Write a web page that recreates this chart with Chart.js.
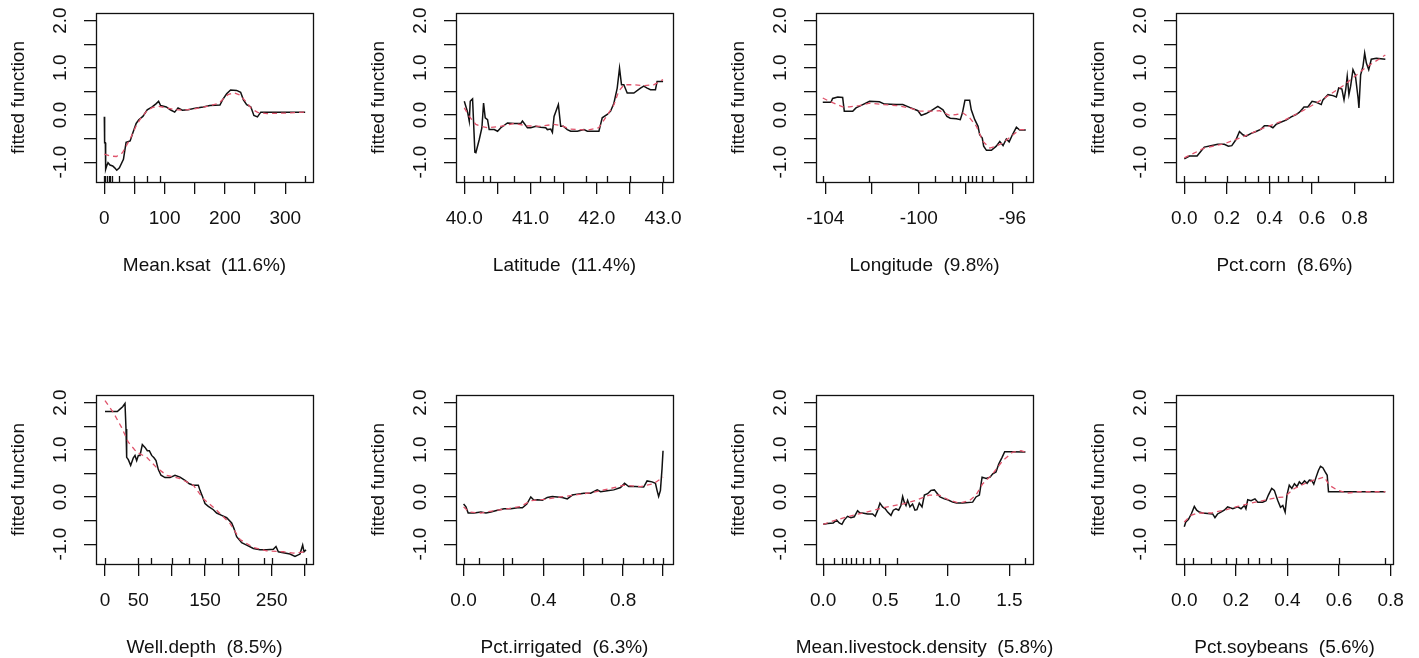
<!DOCTYPE html>
<html>
<head>
<meta charset="utf-8">
<title>Relative influence – partial dependence</title>
<script src="https://cdn.jsdelivr.net/npm/chart.js@4.4.0/dist/chart.umd.min.js"></script>
<style>
  html, body { margin: 0; padding: 0; background: #fff; overflow: hidden; }
  #page { position: relative; width: 1419px; height: 658px; }
  #page canvas { position: absolute; }
</style>
</head>
<body>
<div id="page"></div>
<script>
// ---- shared y axis ----
const yTicks = [-1, -0.5, 0, 0.5, 1, 1.5, 2];
const yLabels = [-1, 0, 1, 2];

const panelTitles = [
  'Mean.ksat  (11.6%)', 'Latitude  (11.4%)', 'Longitude  (9.8%)', 'Pct.corn  (8.6%)',
  'Well.depth  (8.5%)', 'Pct.irrigated  (6.3%)', 'Mean.livestock.density  (5.8%)', 'Pct.soybeans  (5.6%)'
];

// ---- Mean.ksat ----
const ksatX = [0, 0.5, 1.7, 2.2, 3.9, 6.1, 9.4, 13.9, 17.2, 20.6, 25, 31.7, 36.1, 42.8, 47.2, 52.8, 57.2, 63.9, 71.1, 79.4, 86.1, 90, 93.3, 102.8, 109.4, 116.7, 122.2, 129.4, 138.9, 152.8, 163.9, 175, 191.7, 196, 202.8, 209.4, 219.4, 226, 230.6, 236, 243, 248, 253.9, 259.4, 333];
const ksatFit = [-0.04, -0.59, -0.59, -1.15, -1.08, -1.01, -1.06, -1.08, -1.12, -1.17, -1.12, -0.94, -0.58, -0.55, -0.38, -0.18, -0.10, -0.03, 0.11, 0.17, 0.24, 0.29, 0.2, 0.17, 0.11, 0.06, 0.15, 0.1, 0.11, 0.15, 0.17, 0.2, 0.21, 0.32, 0.45, 0.53, 0.52, 0.48, 0.32, 0.22, 0.17, -0.01, -0.04, 0.06, 0.06];
const ksatSmX = [0, 10, 20, 30, 38, 45, 52, 60, 70, 80, 90, 100, 115, 130, 150, 170, 190, 205, 215, 225, 235, 245, 255, 270, 300, 333];
const ksatSm = [-0.83, -0.87, -0.88, -0.8, -0.62, -0.45, -0.25, -0.08, 0.08, 0.16, 0.18, 0.16, 0.12, 0.1, 0.13, 0.18, 0.25, 0.43, 0.47, 0.42, 0.28, 0.12, 0.05, 0.03, 0.04, 0.06];
const ksatRug = [0, 1, 4.5, 7.2, 10, 12.8, 25, 49, 70.5, 92, 333];
const ksatTicks = [0, 50, 100, 150, 200, 250, 300];
const ksatLabels = [0, 100, 200, 300];

// ---- Latitude ----
const latX = [40.0, 40.05, 40.075, 40.09, 40.11, 40.125, 40.16, 40.175, 40.226, 40.266, 40.291, 40.316, 40.351, 40.376, 40.452, 40.502, 40.552, 40.652, 40.753, 40.853, 40.878, 40.953, 41.004, 41.079, 41.154, 41.229, 41.254, 41.305, 41.33, 41.355, 41.42, 41.455, 41.495, 41.555, 41.606, 41.706, 41.806, 41.857, 42.032, 42.057, 42.082, 42.158, 42.208, 42.258, 42.308, 42.343, 42.373, 42.408, 42.459, 42.559, 42.659, 42.709, 42.76, 42.81, 42.885, 42.91, 43.0];
const latFit = [0.29, 0.06, -0.13, 0.29, 0.32, 0.34, -0.79, -0.80, -0.52, -0.27, 0.25, -0.06, -0.10, -0.31, -0.31, -0.345, -0.27, -0.17, -0.18, -0.18, -0.13, -0.27, -0.27, -0.24, -0.26, -0.27, -0.31, -0.30, -0.37, -0.03, 0.22, -0.24, -0.24, -0.31, -0.345, -0.345, -0.31, -0.345, -0.345, -0.20, -0.06, 0.01, 0.08, 0.25, 0.57, 0.99, 0.64, 0.64, 0.465, 0.465, 0.57, 0.61, 0.57, 0.535, 0.535, 0.71, 0.71];
const latSmX = [40.0, 40.075, 40.175, 40.25, 40.35, 40.55, 40.75, 40.95, 41.15, 41.35, 41.455, 41.6, 41.86, 42.03, 42.16, 42.26, 42.33, 42.41, 42.56, 42.71, 42.86, 43.0];
const latSm = [0.15, -0.03, -0.2, -0.24, -0.27, -0.24, -0.18, -0.23, -0.24, -0.2, -0.22, -0.3, -0.32, -0.27, 0.0, 0.22, 0.5, 0.64, 0.64, 0.62, 0.64, 0.75];
const latRug = [40.0, 40.28, 40.39, 40.75, 41.15, 41.35, 41.83, 42.16, 42.5, 43.0];
const latTicks = [40, 40.5, 41, 41.5, 42, 42.5, 43];
const latLabels = [40, 41, 42, 43];

// ---- Longitude ----
const lonX = [-104.11, -103.76, -103.69, -103.47, -103.26, -103.19, -102.83, -102.69, -102.4, -102.11, -101.69, -101.47, -100.97, -100.69, -100.4, -100.04, -99.9, -99.69, -99.47, -99.19, -98.97, -98.8, -98.66, -98.4, -98.23, -98.14, -98.03, -97.83, -97.76, -97.61, -97.47, -97.4, -97.29, -97.23, -97.11, -96.9, -96.69, -96.54, -96.4, -96.26, -96.14, -96.0, -95.83, -95.69, -95.43];
const lonFit = [0.27, 0.27, 0.35, 0.38, 0.37, 0.08, 0.08, 0.15, 0.22, 0.29, 0.28, 0.23, 0.22, 0.22, 0.16, 0.09, -0.01, 0.03, 0.09, 0.18, 0.11, -0.03, -0.07, -0.08, -0.1, 0.04, 0.31, 0.31, 0.11, -0.1, -0.24, -0.42, -0.49, -0.66, -0.75, -0.75, -0.66, -0.56, -0.65, -0.51, -0.57, -0.42, -0.26, -0.32, -0.32];
const lonSmX = [-104.11, -103.83, -103.26, -102.97, -102.54, -102.11, -101.54, -100.97, -100.4, -99.97, -99.54, -99.11, -98.69, -98.4, -98.11, -97.83, -97.54, -97.26, -96.97, -96.69, -96.4, -95.97, -95.69, -95.43];
const lonSm = [0.36, 0.29, 0.17, 0.17, 0.2, 0.25, 0.22, 0.2, 0.15, 0.08, 0.08, 0.09, -0.01, 0.01, 0.04, -0.06, -0.24, -0.56, -0.7, -0.66, -0.59, -0.42, -0.31, -0.31];
const lonRug = [-104.09, -102.14, -99.32, -98.57, -98.26, -97.88, -97.74, -97.57, -97.31, -96.83, -95.43];
const lonTicks = [-104, -102, -100, -98, -96];
const lonLabels = [-104, -100, -96];

// ---- Pct.corn ----
const cornX = [0, 0.024, 0.06, 0.078, 0.094, 0.125, 0.157, 0.188, 0.207, 0.223, 0.243, 0.259, 0.275, 0.29, 0.314, 0.337, 0.361, 0.376, 0.4, 0.416, 0.431, 0.455, 0.478, 0.502, 0.525, 0.541, 0.562, 0.58, 0.6, 0.62, 0.643, 0.651, 0.675, 0.698, 0.714, 0.725, 0.74, 0.75, 0.758, 0.765, 0.773, 0.781, 0.792, 0.803, 0.816, 0.82, 0.828, 0.839, 0.847, 0.855, 0.866, 0.878, 0.902, 0.944];
const cornFit = [-0.93, -0.87, -0.87, -0.77, -0.68, -0.65, -0.62, -0.62, -0.66, -0.65, -0.52, -0.35, -0.42, -0.45, -0.39, -0.35, -0.3, -0.23, -0.23, -0.27, -0.2, -0.15, -0.11, -0.04, 0.01, 0.06, 0.17, 0.17, 0.29, 0.27, 0.22, 0.32, 0.43, 0.41, 0.38, 0.57, 0.55, 0.32, 0.54, 0.82, 0.43, 0.61, 0.96, 0.85, 0.36, 0.15, 0.85, 1.03, 1.31, 1.1, 0.96, 1.18, 1.2, 1.18];
const cornSmX = [0, 0.094, 0.188, 0.282, 0.376, 0.471, 0.565, 0.659, 0.753, 0.847, 0.944];
const cornSm = [-0.91, -0.7, -0.61, -0.45, -0.27, -0.11, 0.11, 0.36, 0.64, 0.99, 1.27];
const cornRug = [0, 0.099, 0.2, 0.284, 0.345, 0.397, 0.442, 0.489, 0.552, 0.627, 0.944];
const cornTicks = [0, 0.2, 0.4, 0.6, 0.8];
const cornLabels = [0, 0.2, 0.4, 0.6, 0.8];

// ---- Well.depth ----
const wellX = [0, 15, 18.5, 22.5, 26.5, 30, 31.5, 32.5, 35, 38.5, 42.5, 45, 47.5, 50, 52.5, 56, 60, 63.5, 66.5, 70, 73.5, 76.5, 80, 84, 90, 97.5, 105, 112.5, 120, 126.5, 132.5, 140, 142.5, 146.5, 150, 155, 162.5, 167.5, 175, 182.5, 190, 193.5, 197.5, 205, 212.5, 222.5, 232.5, 242.5, 252.5, 256.5, 260, 267.5, 277.5, 285, 292.5, 296.5, 298.5, 301.5];
const wellFit = [1.81, 1.81, 1.81, 1.86, 1.91, 1.98, 1.44, 0.84, 0.79, 0.67, 0.83, 0.88, 0.77, 0.88, 0.88, 1.11, 1.05, 0.98, 0.98, 0.88, 0.83, 0.77, 0.58, 0.46, 0.41, 0.41, 0.46, 0.42, 0.35, 0.28, 0.25, 0.25, 0.14, 0.0, -0.14, -0.2, -0.27, -0.34, -0.39, -0.44, -0.55, -0.67, -0.84, -0.97, -1.02, -1.09, -1.12, -1.12, -1.11, -1.05, -1.16, -1.18, -1.21, -1.26, -1.21, -1.02, -1.16, -1.12];
const wellSmX = [0, 12.5, 25, 35, 47.5, 62.5, 77.5, 92.5, 112.5, 132.5, 147.5, 167.5, 187.5, 202.5, 222.5, 242.5, 267.5, 282.5, 301.5];
const wellSm = [2.04, 1.79, 1.47, 1.16, 0.95, 0.84, 0.62, 0.46, 0.39, 0.25, -0.04, -0.28, -0.56, -0.9, -1.07, -1.14, -1.16, -1.19, -1.16];
const wellRug = [0, 50, 69, 100, 126, 150, 175, 200, 238, 250, 301];
const wellTicks = [0, 50, 100, 150, 200, 250, 300];
const wellLabels = [0, 50, 150, 250];

// ---- Pct.irrigated ----
const irrX = [0, 0.012, 0.023, 0.053, 0.087, 0.112, 0.137, 0.17, 0.203, 0.237, 0.27, 0.295, 0.317, 0.337, 0.353, 0.37, 0.395, 0.42, 0.445, 0.47, 0.495, 0.52, 0.545, 0.57, 0.603, 0.637, 0.67, 0.687, 0.72, 0.753, 0.787, 0.807, 0.828, 0.862, 0.903, 0.92, 0.945, 0.962, 0.97, 0.978, 0.987, 0.995, 1.0];
const irrFit = [-0.15, -0.21, -0.34, -0.34, -0.32, -0.34, -0.32, -0.28, -0.25, -0.25, -0.23, -0.23, -0.15, 0.0, -0.07, -0.06, -0.07, -0.01, 0.01, 0.0, -0.01, -0.04, 0.04, 0.06, 0.08, 0.08, 0.15, 0.11, 0.13, 0.15, 0.2, 0.29, 0.22, 0.22, 0.21, 0.34, 0.32, 0.29, 0.14, 0.01, 0.14, 0.6, 0.98];
const irrSmX = [0, 0.028, 0.087, 0.153, 0.22, 0.287, 0.337, 0.403, 0.487, 0.57, 0.653, 0.737, 0.803, 0.887, 0.953, 1.0];
const irrSm = [-0.21, -0.32, -0.34, -0.29, -0.25, -0.2, -0.08, -0.05, 0.0, 0.05, 0.1, 0.18, 0.25, 0.22, 0.28, 0.42];
const irrRug = [0, 0.075, 0.2, 0.242, 0.4, 0.6, 0.695, 0.8, 0.9, 0.95, 1.0];
const irrTicks = [0, 0.2, 0.4, 0.6, 0.8, 1.0];
const irrLabels = [0, 0.4, 0.8];

// ---- Mean.livestock.density ----
const lvX = [0, 0.035, 0.081, 0.108, 0.129, 0.151, 0.169, 0.196, 0.223, 0.25, 0.277, 0.296, 0.317, 0.358, 0.398, 0.419, 0.438, 0.457, 0.478, 0.5, 0.519, 0.546, 0.565, 0.586, 0.608, 0.626, 0.64, 0.653, 0.667, 0.68, 0.699, 0.72, 0.739, 0.755, 0.774, 0.796, 0.815, 0.841, 0.868, 0.895, 0.917, 0.941, 0.976, 1.003, 1.043, 1.075, 1.124, 1.204, 1.231, 1.258, 1.28, 1.312, 1.344, 1.366, 1.392, 1.414, 1.441, 1.462, 1.5, 1.629];
const lvFit = [-0.58, -0.56, -0.55, -0.49, -0.55, -0.58, -0.49, -0.41, -0.44, -0.42, -0.29, -0.34, -0.34, -0.36, -0.36, -0.41, -0.29, -0.13, -0.21, -0.25, -0.32, -0.39, -0.28, -0.25, -0.28, -0.18, 0.01, -0.11, -0.18, -0.07, -0.21, -0.15, -0.28, -0.27, -0.13, -0.21, 0.04, 0.07, 0.14, 0.15, 0.08, 0.0, -0.04, -0.06, -0.11, -0.13, -0.13, -0.11, 0.0, 0.04, 0.42, 0.39, 0.42, 0.49, 0.53, 0.7, 0.84, 0.96, 0.96, 0.95];
const lvSmX = [0, 0.102, 0.21, 0.317, 0.425, 0.532, 0.64, 0.747, 0.855, 0.935, 1.016, 1.097, 1.177, 1.231, 1.285, 1.366, 1.446, 1.527, 1.594, 1.629];
const lvSm = [-0.58, -0.49, -0.41, -0.34, -0.27, -0.2, -0.15, -0.07, 0.04, 0.04, -0.07, -0.13, -0.08, 0.04, 0.28, 0.49, 0.77, 0.95, 0.98, 0.95];
const lvRug = [0, 0.083, 0.148, 0.183, 0.226, 0.264, 0.323, 0.377, 0.446, 0.591, 1.629];
const lvTicks = [0, 0.5, 1.0, 1.5];
const lvLabels = [0, 0.5, 1.0, 1.5];

// ---- Pct.soybeans ----
const soyX = [0, 0.006, 0.016, 0.028, 0.039, 0.048, 0.058, 0.071, 0.091, 0.11, 0.119, 0.129, 0.142, 0.155, 0.168, 0.188, 0.207, 0.22, 0.233, 0.239, 0.246, 0.259, 0.274, 0.285, 0.304, 0.317, 0.326, 0.339, 0.349, 0.362, 0.373, 0.382, 0.391, 0.398, 0.407, 0.417, 0.427, 0.437, 0.446, 0.455, 0.466, 0.476, 0.485, 0.494, 0.502, 0.511, 0.52, 0.528, 0.537, 0.546, 0.554, 0.559, 0.569, 0.66, 0.779];
const soyFit = [-0.63, -0.53, -0.48, -0.35, -0.2, -0.28, -0.32, -0.34, -0.35, -0.36, -0.44, -0.36, -0.32, -0.28, -0.21, -0.25, -0.21, -0.25, -0.18, -0.25, -0.06, -0.08, -0.04, -0.11, -0.11, -0.08, 0.04, 0.18, 0.14, -0.07, -0.22, -0.18, -0.32, 0.04, 0.25, 0.18, 0.28, 0.22, 0.32, 0.27, 0.34, 0.29, 0.36, 0.35, 0.27, 0.42, 0.56, 0.65, 0.62, 0.53, 0.46, 0.11, 0.11, 0.11, 0.11];
const soySmX = [0, 0.026, 0.052, 0.103, 0.155, 0.207, 0.259, 0.31, 0.362, 0.388, 0.427, 0.466, 0.504, 0.543, 0.562, 0.595, 0.634, 0.673, 0.779];
const soySm = [-0.53, -0.39, -0.34, -0.34, -0.28, -0.2, -0.13, -0.07, -0.01, 0.0, 0.18, 0.28, 0.36, 0.42, 0.25, 0.14, 0.08, 0.11, 0.11];
const soyRug = [0, 0.032, 0.103, 0.16, 0.2, 0.246, 0.291, 0.336, 0.4, 0.6, 0.779];
const soyTicks = [0, 0.2, 0.4, 0.6, 0.8];
const soyLabels = [0, 0.2, 0.4, 0.6, 0.8];

// ---- look ----
const INK = '#111';
const RED = '#DF536B';
const FONT = "'Liberation Sans', Arial, sans-serif";
const FONT_SIZE = 19;
Chart.defaults.font.family = FONT;
Chart.defaults.font.size = FONT_SIZE;
Chart.defaults.color = INK;

// plot box geometry (pixels)
const BOX_W = 217, BOX_H = 169;
const AXIS_W = 96, AXIS_H = 100, PAD_TOP = 13, PAD_RIGHT = 24;
const boxLefts = [96, 456, 816, 1176];
const boxTops = [13, 395];
const Y_MIN = -1.42, Y_MAX = 2.16;

const panels = [
  { fitX: ksatX, fitY: ksatFit, smX: ksatSmX, smY: ksatSm, rug: ksatRug, ticks: ksatTicks, labels: ksatLabels, min: -13.8, max: 346, digits: 0 },
  { fitX: latX, fitY: latFit, smX: latSmX, smY: latSm, rug: latRug, ticks: latTicks, labels: latLabels, min: 39.875, max: 43.15, digits: 1 },
  { fitX: lonX, fitY: lonFit, smX: lonSmX, smY: lonSm, rug: lonRug, ticks: lonTicks, labels: lonLabels, min: -104.4, max: -95.12, digits: 0 },
  { fitX: cornX, fitY: cornFit, smX: cornSmX, smY: cornSm, rug: cornRug, ticks: cornTicks, labels: cornLabels, min: -0.039, max: 0.98, digits: 1 },
  { fitX: wellX, fitY: wellFit, smX: wellSmX, smY: wellSm, rug: wellRug, ticks: wellTicks, labels: wellLabels, min: -13.5, max: 312, digits: 0 },
  { fitX: irrX, fitY: irrFit, smX: irrSmX, smY: irrSm, rug: irrRug, ticks: irrTicks, labels: irrLabels, min: -0.038, max: 1.05, digits: 1 },
  { fitX: lvX, fitY: lvFit, smX: lvSmX, smY: lvSm, rug: lvRug, ticks: lvTicks, labels: lvLabels, min: -0.058, max: 1.69, digits: 1 },
  { fitX: soyX, fitY: soyFit, smX: soySmX, smY: soySm, rug: soyRug, ticks: soyTicks, labels: soyLabels, min: -0.032, max: 0.809, digits: 1 }
];

function pts(xs, ys) {
  return xs.map((x, i) => ({ x, y: ys[i] }));
}

// box, rug, rotated y labels and the x caption, drawn like base R graphics
const rFrame = {
  id: 'rFrame',
  afterDraw(chart, args, opts) {
    const { ctx, chartArea: a, scales: { x, y } } = chart;
    ctx.save();
    ctx.strokeStyle = INK;
    ctx.lineWidth = 1.3;
    ctx.strokeRect(Math.round(a.left) + 0.5, Math.round(a.top) + 0.5,
      Math.round(a.right - a.left), Math.round(a.bottom - a.top));

    ctx.beginPath();
    opts.rug.forEach(v => {
      const px = Math.round(x.getPixelForValue(v)) + 0.5;
      ctx.moveTo(px, a.bottom);
      ctx.lineTo(px, a.bottom - 6);
    });
    ctx.stroke();

    ctx.fillStyle = INK;
    ctx.font = FONT_SIZE + 'px ' + FONT;
    ctx.textAlign = 'center';
    ctx.textBaseline = 'middle';
    yLabels.forEach(v => {
      ctx.save();
      ctx.translate(a.left - 35, y.getPixelForValue(v));
      ctx.rotate(-Math.PI / 2);
      ctx.fillText(v.toFixed(1), 0, 0);
      ctx.restore();
    });

    ctx.fillText(opts.title, (a.left + a.right) / 2, a.bottom + 84);
    ctx.restore();
  }
};

const page = document.getElementById('page');

panels.forEach((p, i) => {
  const canvas = document.createElement('canvas');
  canvas.width = AXIS_W + BOX_W + PAD_RIGHT;
  canvas.height = PAD_TOP + BOX_H + AXIS_H;
  canvas.style.left = (boxLefts[i % 4] - AXIS_W) + 'px';
  canvas.style.top = (boxTops[Math.floor(i / 4)] - PAD_TOP) + 'px';
  page.appendChild(canvas);

  const tickGrid = { drawOnChartArea: false, drawTicks: true, tickLength: 12, color: INK, lineWidth: 1.3 };

  new Chart(canvas, {
    type: 'line',
    data: {
      datasets: [
        { data: pts(p.fitX, p.fitY), borderColor: INK, borderWidth: 1.5, pointRadius: 0, tension: 0, order: 1 },
        { data: pts(p.smX, p.smY), borderColor: RED, borderWidth: 1.3, borderDash: [5, 4], pointRadius: 0, tension: 0, order: 0 }
      ]
    },
    options: {
      responsive: false,
      animation: false,
      events: [],
      layout: { padding: { top: PAD_TOP, right: PAD_RIGHT, left: 0, bottom: 0 } },
      plugins: {
        legend: { display: false },
        tooltip: { enabled: false },
        rFrame: { rug: p.rug, title: panelTitles[i] }
      },
      scales: {
        x: {
          type: 'linear',
          min: p.min,
          max: p.max,
          afterBuildTicks: s => { s.ticks = p.ticks.map(v => ({ value: v })); },
          afterFit: s => { s.height = AXIS_H; s.paddingLeft = 0; s.paddingRight = 0; },
          border: { display: false },
          grid: tickGrid,
          ticks: {
            autoSkip: false, maxRotation: 0, minRotation: 0, padding: 13, color: INK,
            callback: v => p.labels.includes(v) ? v.toFixed(p.digits) : ''
          }
        },
        y: {
          type: 'linear',
          min: Y_MIN,
          max: Y_MAX,
          afterBuildTicks: s => { s.ticks = yTicks.map(v => ({ value: v })); },
          afterFit: s => { s.width = AXIS_W; s.paddingTop = 0; s.paddingBottom = 0; },
          border: { display: false },
          grid: tickGrid,
          ticks: { display: false },
          title: { display: true, text: 'fitted function', color: INK, padding: { top: 7, bottom: 0 } }
        }
      }
    },
    plugins: [rFrame]
  });
});
</script>
</body>
</html>
